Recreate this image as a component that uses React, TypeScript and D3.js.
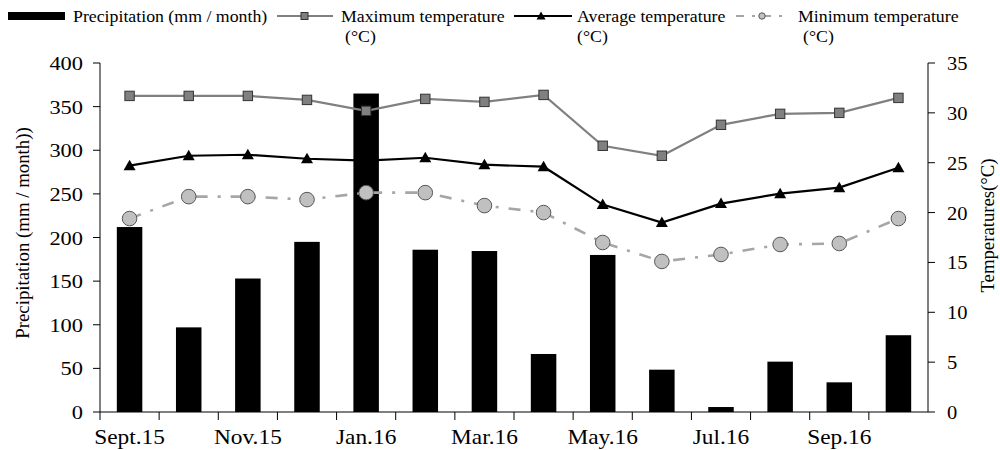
import React from "react";
import * as d3 from "d3";

const months = ["Sept.15","Oct.15","Nov.15","Dec.15","Jan.16","Feb.16","Mar.16","Apr.16","May.16","Jun.16","Jul.16","Aug.16","Sep.16","Oct.16"];
const tickLabels = ["Sept.15","","Nov.15","","Jan.16","","Mar.16","","May.16","","Jul.16","","Sep.16",""];
const precipitation = [212, 97, 153, 195, 365, 186, 184.5, 66.5, 180, 48.5, 5.7, 57.7, 34, 88];
const maxTemp = [31.7, 31.7, 31.7, 31.3, 30.2, 31.4, 31.1, 31.8, 26.7, 25.7, 28.8, 29.9, 30.0, 31.5];
const avgTemp = [24.7, 25.7, 25.8, 25.4, 25.2, 25.5, 24.8, 24.6, 20.8, 19.0, 20.9, 21.9, 22.5, 24.5];
const minTemp = [19.4, 21.6, 21.6, 21.3, 22.0, 22.0, 20.7, 20.0, 17.0, 15.1, 15.8, 16.8, 16.9, 19.4];
const leftTicks = [0, 50, 100, 150, 200, 250, 300, 350, 400];
const rightTicks = [0, 5, 10, 15, 20, 25, 30, 35];

const W = 1000, H = 450;
const L = 100, R = 928, T = 63, B = 412;
const FONT = "'Liberation Serif', 'DejaVu Serif', serif";

type TxtProps = {
  x: number; y: number; size: number; sx?: number; anchor?: string; rot?: number; fill?: string; children: React.ReactNode;
};
function Txt({ x, y, size, sx = 1, anchor = "start", rot = 0, fill = "#000", children }: TxtProps) {
  return (
    <text
      transform={`translate(${x},${y}) rotate(${rot}) scale(${sx},1)`}
      fontSize={size}
      textAnchor={anchor}
      fill={fill}
    >
      {children}
    </text>
  );
}

export default function App() {
  const x = d3.scaleBand<string>().domain(months).range([L, R]).paddingInner(0).paddingOuter(0);
  const yP = d3.scaleLinear().domain([0, 400]).range([B, T]);
  const yT = d3.scaleLinear().domain([0, 35]).range([B, T]);
  const cx = (i: number) => (x(months[i]) as number) + x.bandwidth() / 2;
  const barW = 25.5;
  const lineGen = (vals: number[]) =>
    d3.line<number>().x((_, i) => cx(i)).y((v) => yT(v))(vals) as string;
  const tri = (px: number, py: number, s = 6) =>
    `M${px},${py - s} L${px + s},${py + s * 0.75} L${px - s},${py + s * 0.75} Z`;

  const LG = 16.8, LGS = 1.06;

  return (
    <svg width={W} height={H} style={{ position: "absolute", left: 0, top: 0, background: "#fff" }} fontFamily={FONT}>
      <rect x={0} y={0} width={W} height={H} fill="#fff" />
      {/* Legend */}
      <g>
        <rect x={8} y={12} width={57} height={8} fill="#000" />
        <Txt x={73} y={22} size={LG} sx={LGS}>Precipitation (mm / month)</Txt>
        <line x1={277} x2={333} y1={16} y2={16} stroke="#808080" strokeWidth={2} />
        <rect x={301} y={12.5} width={7} height={7} fill="#808080" stroke="#333" strokeWidth={1} />
        <Txt x={341} y={22} size={LG} sx={LGS}>Maximum temperature</Txt>
        <Txt x={345} y={42} size={LG} sx={LGS}>(°C)</Txt>
        <line x1={514} x2={572} y1={16} y2={16} stroke="#000" strokeWidth={2} />
        <path d={tri(541, 16, 4.5)} fill="#000" />
        <Txt x={577} y={22} size={LG} sx={LGS}>Average temperature</Txt>
        <Txt x={577} y={42} size={LG} sx={LGS}>(°C)</Txt>
        <line x1={736} x2={784} y1={16} y2={16} stroke="#a6a6a6" strokeWidth={2} strokeDasharray="8,8,3,8" />
        <circle cx={762} cy={16} r={3.2} fill="#c0c0c0" stroke="#555" strokeWidth={1} />
        <Txt x={798} y={22} size={LG} sx={LGS}>Minimum temperature</Txt>
        <Txt x={803} y={42} size={LG} sx={LGS}>(°C)</Txt>
      </g>

      {/* Average temp line (behind bars) */}
      <path d={lineGen(avgTemp)} fill="none" stroke="#000" strokeWidth={2.2} />
      {avgTemp.map((v, i) => (
        <path key={"a" + i} d={tri(cx(i), yT(v))} fill="#000" />
      ))}

      {/* Bars */}
      {precipitation.map((v, i) => (
        <rect key={"b" + i} x={cx(i) - barW / 2} y={yP(v)} width={barW} height={B - yP(v)} fill="#000" />
      ))}

      {/* Max temp */}
      <path d={lineGen(maxTemp)} fill="none" stroke="#808080" strokeWidth={2.2} />
      {maxTemp.map((v, i) => (
        <rect key={"m" + i} x={cx(i) - 4.7} y={yT(v) - 4.7} width={9.4} height={9.4} fill="#808080" stroke="#333" strokeWidth={1} />
      ))}

      {/* Min temp */}
      <path d={lineGen(minTemp)} fill="none" stroke="#a6a6a6" strokeWidth={2.6} strokeDasharray="12,10,3,10" />
      {minTemp.map((v, i) => (
        <circle key={"n" + i} cx={cx(i)} cy={yT(v)} r={7.3} fill="#c0c0c0" stroke="#555" strokeWidth={1} />
      ))}

      {/* Axes */}
      <g stroke="#000" strokeWidth={1}>
        <line x1={L} x2={L} y1={T} y2={B} />
        <line x1={R} x2={R} y1={T} y2={B} />
        <line x1={L} x2={R} y1={B} y2={B} />
        {leftTicks.map((t) => (
          <line key={"lt" + t} x1={L - 7} x2={L} y1={yP(t)} y2={yP(t)} />
        ))}
        {rightTicks.map((t) => (
          <line key={"rt" + t} x1={R} x2={R + 7} y1={yT(t)} y2={yT(t)} />
        ))}
        {months.map((m, i) => (
          <line key={"xt" + i} x1={x(m) as number} x2={x(m) as number} y1={B} y2={B + 8} />
        ))}
      </g>
      {leftTicks.map((t) => (
        <Txt key={"ll" + t} x={83} y={yP(t) + 7} size={19.5} sx={1.15} anchor="end">{t}</Txt>
      ))}
      {rightTicks.map((t) => (
        <Txt key={"rl" + t} x={947} y={yT(t) + 7} size={19} sx={1.08}>{t}</Txt>
      ))}
      {tickLabels.map((lbl, i) =>
        lbl ? (
          <Txt key={"xl" + i} x={cx(i)} y={444} size={20.5} sx={1.14} anchor="middle">{lbl}</Txt>
        ) : null
      )}
      <Txt x={29} y={233} size={19} sx={0.99} rot={-90} anchor="middle">Precipitation (mm / month))</Txt>
      <Txt x={994} y={225.5} size={18} sx={1.04} rot={-90} anchor="middle">Temperatures(°C)</Txt>
    </svg>
  );
}
